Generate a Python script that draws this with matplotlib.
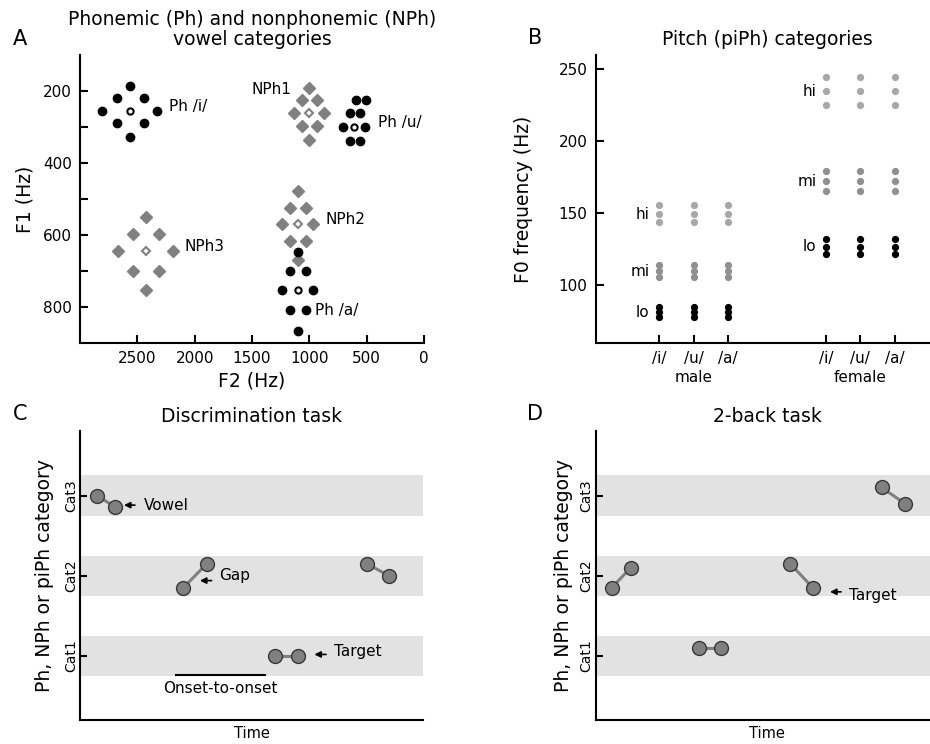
import numpy as np
import matplotlib
matplotlib.use("Agg")
import matplotlib.pyplot as plt

# ---- panel A: vowel categories (F2, F1 in Hz) ----
ph_i_f2 = [2560, 2680, 2440, 2810, 2325, 2680, 2440, 2560]
ph_i_f1 = [186, 219, 219, 255, 255, 290, 290, 329]
ph_i_c = (2560, 255)

ph_u_f2 = [596, 510, 648, 555, 704, 515, 648, 555]
ph_u_f1 = [226, 226, 262, 262, 299, 299, 338, 338]
ph_u_c = (608, 299)

ph_a_f2 = [1100, 1168, 1031, 1241, 965, 1168, 1031, 1100]
ph_a_f1 = [647, 701, 701, 754, 754, 809, 809, 867]
ph_a_c = (1100, 754)

nph1_f2 = [1000, 1065, 935, 1130, 875, 1065, 935, 1000]
nph1_f1 = [191, 226, 226, 262, 262, 298, 298, 336]
nph1_c = (1000, 262)

nph2_f2 = [1100, 1168, 1031, 1241, 965, 1168, 1031, 1100]
nph2_f1 = [477, 524, 524, 570, 570, 616, 616, 670]
nph2_c = (1100, 570)

nph3_f2 = [2424, 2540, 2308, 2665, 2191, 2540, 2308, 2424]
nph3_f1 = [550, 597, 597, 645, 645, 700, 700, 753]
nph3_c = (2424, 645)

# label text, F2, F1
a_labels = [("Ph /i/", 2220, 242, "left"), ("NPh1", 1153, 196, "right"),
            ("Ph /u/", 404, 287, "left"), ("NPh2", 863, 556, "left"),
            ("NPh3", 2092, 633, "left"), ("Ph /a/", 950, 810, "left")]

# ---- panel B: pitch categories (F0 in Hz) ----
vowels = ["/i/", "/u/", "/a/"]
male_x = [1, 2, 3]
female_x = [5.83, 6.83, 7.83]
male_hi = [144, 149.5, 155.5]
male_mi = [106, 110, 114]
male_lo = [78, 81.5, 85]
female_hi = [225.5, 235, 245]
female_mi = [165.5, 172.5, 179.5]
female_lo = [122, 127, 132]

# ---- panels C, D: stimulus sequences (time, category) ----
disc_t = [[0.73, 1.53], [4.51, 5.54], [8.52, 9.51], [12.52, 13.51]]
disc_c = [[3.0, 2.86], [1.85, 2.15], [1.0, 1.0], [2.15, 2.0]]
nback_t = [[0.7, 1.53], [4.53, 5.47], [8.5, 9.49], [12.49, 13.51]]
nback_c = [[1.85, 2.1], [1.1, 1.1], [2.15, 1.85], [3.1, 2.9]]
cats = [1, 2, 3]
cat_labels = ["Cat1", "Cat2", "Cat3"]

GRAY = "#808080"


def style_axes(ax):
    for s in ["top", "right"]:
        ax.spines[s].set_visible(False)
    for s in ["left", "bottom"]:
        ax.spines[s].set_linewidth(1.5)
    ax.tick_params(direction="in", length=5.5, width=1.5, labelsize=11, pad=6)


def vowel_cat(ax, f2, f1, c, phon):
    if phon:
        ax.plot(f2, f1, "o", color="k", ms=6, ls="none", zorder=3)
        ax.plot(*c, "o", mfc="white", mec="k", mew=1.5, ms=4.5, zorder=3)
    else:
        ax.plot(f2, f1, "D", color=GRAY, mec=GRAY, ms=6, ls="none", zorder=2)
        ax.plot(*c, "D", mfc="white", mec=GRAY, mew=1.5, ms=3.8, zorder=2)


def sequence(ax, ts, cs):
    for c in cats:
        ax.axhspan(c - 0.25, c + 0.25, color="#e2e2e2", lw=0, zorder=0)
    for t, c in zip(ts, cs):
        ax.plot(t, c, "-", color=GRAY, lw=2.2, zorder=2)
        ax.plot(t, c, "o", mfc=GRAY, mec="#383838", mew=1, ms=10, zorder=3)
    ax.set_xlim(0, 15)
    ax.set_ylim(0.2, 3.8)
    ax.set_xticks([])
    ax.set_yticks(cats)
    ax.set_yticklabels(cat_labels, rotation=90, va="center")
    ax.tick_params(axis="y", labelsize=10, pad=1.5, length=5)
    ax.set_xlabel("Time", fontsize=10.5, labelpad=4)


def arrow(ax, head, tail, text, tx, ty):
    ax.annotate("", xy=head, xytext=tail,
                arrowprops=dict(arrowstyle="-|>", color="k", lw=1.2,
                                mutation_scale=9, shrinkA=0, shrinkB=0))
    ax.text(tx, ty, text, fontsize=11, ha="left", va="center")


fig = plt.figure(figsize=(9.3, 7.44), dpi=100)

# A
axA = fig.add_axes([0.086, 0.539, 0.370, 0.387])
style_axes(axA)
vowel_cat(axA, nph1_f2, nph1_f1, nph1_c, False)
vowel_cat(axA, nph2_f2, nph2_f1, nph2_c, False)
vowel_cat(axA, nph3_f2, nph3_f1, nph3_c, False)
vowel_cat(axA, ph_i_f2, ph_i_f1, ph_i_c, True)
vowel_cat(axA, ph_u_f2, ph_u_f1, ph_u_c, True)
vowel_cat(axA, ph_a_f2, ph_a_f1, ph_a_c, True)
for txt, x, y, ha in a_labels:
    axA.text(x, y, txt, fontsize=11, ha=ha, va="center")
axA.set_xlim(3000, 0)
axA.set_ylim(900, 100)
axA.set_xticks([2500, 2000, 1500, 1000, 500, 0])
axA.set_yticks([200, 400, 600, 800])
axA.set_yticks([300, 500, 700], minor=True)
axA.tick_params(which="minor", direction="in", length=5.5, width=1.5)
axA.set_xlabel("F2 (Hz)", fontsize=13.5, labelpad=4)
axA.set_ylabel("F1 (Hz)", fontsize=13.5, labelpad=6)
axA.set_title("Phonemic (Ph) and nonphonemic (NPh)\nvowel categories",
              fontsize=13.5, pad=7, linespacing=1.1)

# B
axB = fig.add_axes([0.6405, 0.539, 0.3692, 0.387])
style_axes(axB)
for xs, groups in [(male_x, (male_hi, male_mi, male_lo)),
                   (female_x, (female_hi, female_mi, female_lo))]:
    for vals, col in zip(groups, ["#a8a8a8", "#909090", "k"]):
        for x in xs:
            axB.plot([x] * len(vals), vals, "o", color=col, ms=4.2, ls="none")
    for vals, name in zip(groups, ["hi", "mi", "lo"]):
        axB.text(xs[0] - 0.28, vals[1], name, fontsize=11, ha="right", va="center")
axB.set_xlim(-0.843, 9.108)
axB.set_ylim(60, 260)
axB.set_yticks([100, 150, 200, 250])
axB.set_xticks(male_x + female_x)
axB.set_xticklabels(vowels + vowels)
axB.text(male_x[1], -0.135, "male", fontsize=11, ha="center", va="baseline",
         transform=axB.get_xaxis_transform())
axB.text(female_x[1], -0.135, "female", fontsize=11, ha="center", va="baseline",
         transform=axB.get_xaxis_transform())
axB.set_ylabel("F0 frequency (Hz)", fontsize=13.5, labelpad=18)
axB.set_title("Pitch (piPh) categories", fontsize=13.5, pad=7)

# C
axC = fig.add_axes([0.086, 0.0319, 0.3692, 0.3884])
style_axes(axC)
sequence(axC, disc_t, disc_c)
arrow(axC, (1.92, 2.88), (2.4, 2.88), "Vowel", 2.77, 2.88)
arrow(axC, (5.24, 1.94), (5.75, 1.94), "Gap", 6.09, 2.0)
arrow(axC, (10.24, 1.02), (10.75, 1.02), "Target", 11.1, 1.06)
axC.plot([4.2, 8.1], [0.77, 0.77], "-", color="k", lw=1.5)
axC.text(6.12, 0.6, "Onset-to-onset", fontsize=11, ha="center", va="center")
axC.set_ylabel("Ph, NPh or piPh category", fontsize=13.5, labelpad=7)
axC.set_title("Discrimination task", fontsize=13.5, pad=7)

# D
axD = fig.add_axes([0.6405, 0.0319, 0.3692, 0.3884])
style_axes(axD)
sequence(axD, nback_t, nback_c)
arrow(axD, (10.24, 1.80), (10.72, 1.80), "Target", 11.07, 1.76)
axD.set_ylabel("Ph, NPh or piPh category", fontsize=13.5, labelpad=5)
axD.set_title("2-back task", fontsize=13.5, pad=7)

for letter, x, y in [("A", 20, 39), ("B", 535, 38), ("C", 20, 414), ("D", 535, 414)]:
    fig.text(x / 930, 1 - y / 744, letter, fontsize=15, ha="center", va="center")

fig.savefig("out.png", dpi=100)
